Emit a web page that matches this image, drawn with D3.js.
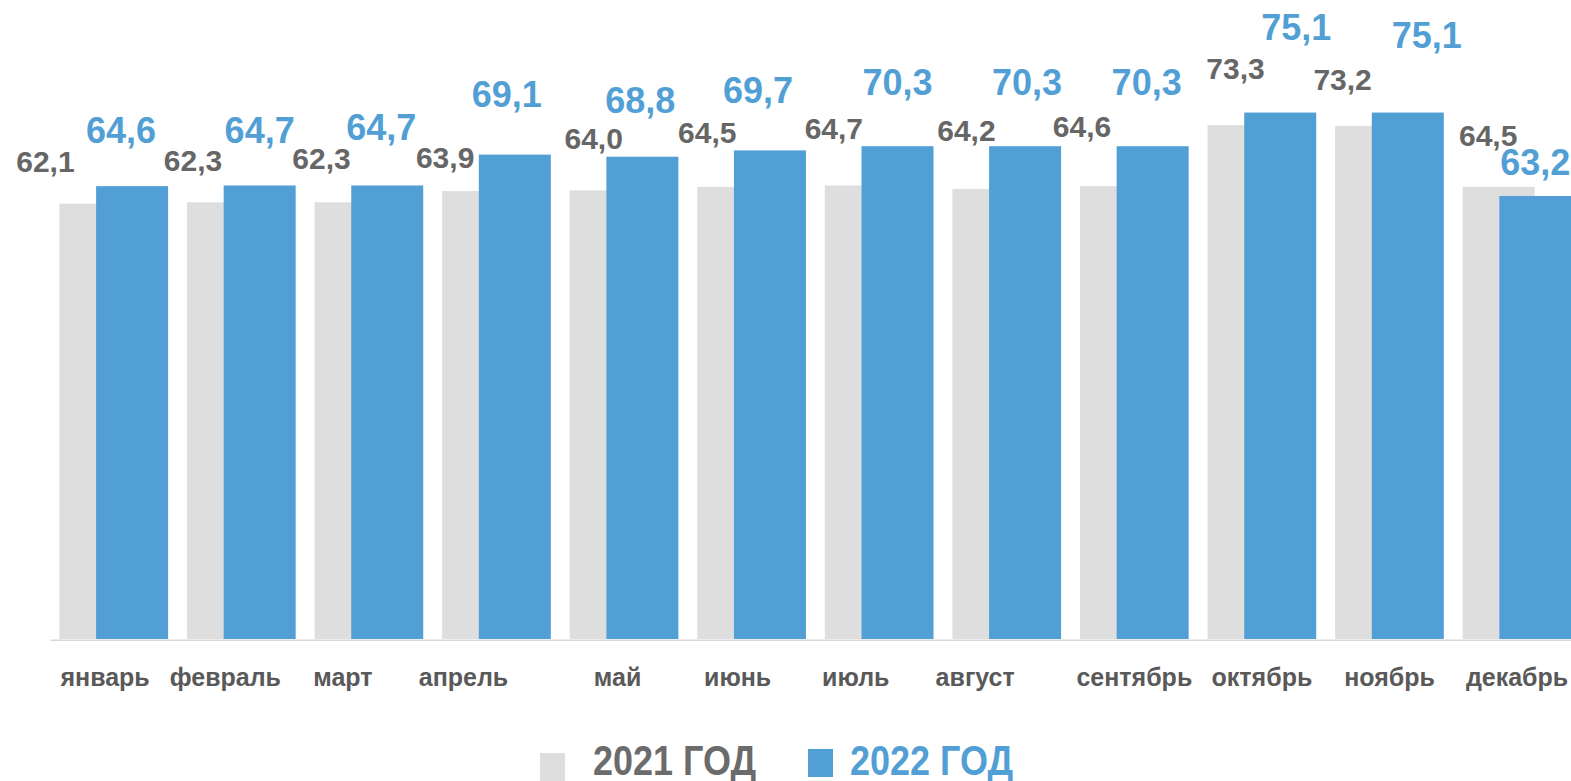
<!DOCTYPE html>
<html>
<head>
<meta charset="utf-8">
<script src="https://cdn.jsdelivr.net/npm/d3@7/dist/d3.min.js"></script>
<style>
  html, body { margin: 0; padding: 0; background: #ffffff; overflow: hidden; }
  svg { display: block; font-family: "Liberation Sans", Arial, sans-serif; font-weight: bold; }
</style>
</head>
<body>
<svg id="chart" width="1571" height="781"></svg>
<script>
// ---- data ----
const months = ["январь", "февраль", "март", "апрель", "май", "июнь", "июль", "август", "сентябрь", "октябрь", "ноябрь", "декабрь"];
const series = ["2021 ГОД", "2022 ГОД"];
const values2021 = [62.1, 62.3, 62.3, 63.9, 64.0, 64.5, 64.7, 64.2, 64.6, 73.3, 73.2, 64.5];
const values2022 = [64.6, 64.7, 64.7, 69.1, 68.8, 69.7, 70.3, 70.3, 70.3, 75.1, 75.1, 63.2];
const fmt = v => v.toFixed(1).replace(".", ",");

// ---- layout ----
const colors = { "2021 ГОД": "#dedede", "2022 ГОД": "#529fd6" };
const labelColors = { "2021 ГОД": "#666666", "2022 ГОД": "#529fd6" };
const baseY = 639;
const step = 127.57;
const left = 50;
const barW = 72;
const shift = 36.7;
const groupPad = 9.4;

// manual label nudges (dx from bar center, gap above bar top)
const nudge2021 = [[-50, 31.7], [-30, 31.3], [-29, 33.3], [-33, 23.1], [-12, 41.4], [-26, 43.9], [-27, 46.5], [-22, 48], [-34, 49.2], [-8, 46.2], [-28.5, 35.9], [-10.5, 40.9]];
const nudge2022 = [[-11, 43], [0, 42.5], [-6, 45.5], [-8, 47.6], [-2, 43.7], [-12, 47.4], [0, 51], [2, 51], [-6, 51], [16, 72.5], [19, 64.5], [0, 21]];
const tickNudge = [-8.7, -16, -26, -33, -6.5, -14, -23.5, -31.6, 0, 0, 0, 0];

const svg = d3.select("#chart");

const x0 = d3.scaleBand().domain(months).range([left, left + step * months.length]).paddingInner(0).paddingOuter(0);
const x1 = d3.scalePoint().domain(series).range([groupPad, groupPad + shift]);
const y = d3.scaleLinear().domain([0, 90]).range([baseY, baseY - 90 * 7.01]);

const rows = months.map((m, i) => ({ m, i, vals: [
  { s: series[0], v: values2021[i], n: nudge2021[i] },
  { s: series[1], v: values2022[i], n: nudge2022[i] }
]}));

// bars
const g = svg.append("g");
const groups = g.selectAll("g.grp").data(rows).join("g").attr("class", "grp")
  .attr("transform", d => `translate(${x0(d.m)},0)`);
groups.selectAll("rect").data(d => d.vals).join("rect")
  .attr("x", d => x1(d.s))
  .attr("y", d => y(d.v))
  .attr("width", barW)
  .attr("height", d => y(0) - y(d.v))
  .attr("fill", d => colors[d.s]);

// axis
const axis = d3.axisBottom(x0).tickSize(0).tickPadding(0);
const ax = svg.append("g").attr("transform", `translate(0,${baseY + 0.8})`).call(axis);
ax.select(".domain").attr("stroke", "#d9d9d9").attr("stroke-width", 1.6);
ax.selectAll(".tick text")
  .attr("font-family", "'Liberation Sans', Arial, sans-serif")
  .attr("font-weight", "bold")
  .attr("font-size", 25)
  .attr("fill", "#595959")
  .attr("dy", 0)
  .attr("y", 686.5 - baseY - 0.8)
  .attr("dx", (d, i) => tickNudge[i]);

// labels
groups.selectAll("text.val").data(d => d.vals).join("text").attr("class", "val")
  .attr("x", d => x1(d.s) + barW / 2 + d.n[0])
  .attr("y", d => y(d.v) - d.n[1])
  .attr("text-anchor", "middle")
  .attr("font-size", d => d.s === series[0] ? 30 : 36)
  .attr("fill", d => labelColors[d.s])
  .text(d => fmt(d.v));

// legend
const legendPos = [{ rx: 540, ry: 753, tx: 593 }, { rx: 808, ry: 749, tx: 850 }];
const lg = svg.append("g").selectAll("g").data(series).join("g");
lg.append("rect")
  .attr("x", (d, i) => legendPos[i].rx)
  .attr("y", (d, i) => legendPos[i].ry)
  .attr("width", 25).attr("height", 28)
  .attr("fill", d => colors[d]);
lg.append("text")
  .attr("transform", (d, i) => `translate(${legendPos[i].tx},775) scale(1,1.2)`)
  .attr("font-size", 36)
  .attr("fill", d => d === series[0] ? "#6b6b6b" : "#529fd6")
  .text(d => d);
</script>
</body>
</html>
